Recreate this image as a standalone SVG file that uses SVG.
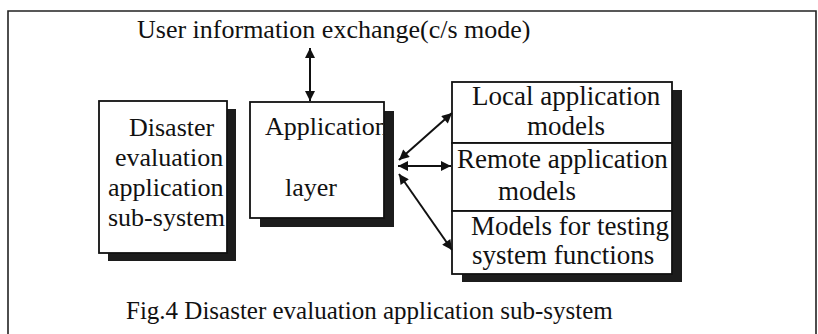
<svg xmlns="http://www.w3.org/2000/svg" width="818" height="334" viewBox="0 0 818 334">
  <style>
    text { font-family: "Liberation Serif", "Times New Roman", serif; fill: #111; }
    .t26 { font-size: 26px; }
    .t27 { font-size: 27px; }
    .cap { font-size: 25px; }
    .box { fill: #fff; stroke: #111; stroke-width: 1.8; }
    .shadow { fill: #1c1c1c; }
    .conn { stroke: #111; stroke-width: 2; fill: none; marker-start: url(#ah); marker-end: url(#ah); }
  </style>
  <defs>
    <marker id="ah" viewBox="0 0 10 10" refX="10" refY="5" markerWidth="6" markerHeight="5" orient="auto-start-reverse" markerUnits="strokeWidth">
      <path d="M0,0 L10,5 L0,10 z" fill="#111"/>
    </marker>
  </defs>
  <rect x="0" y="0" width="818" height="334" fill="#fff"/>
  <path d="M8,334 V11 H816 V334" fill="none" stroke="#222" stroke-width="1.6"/>

  <text id="title" class="t26" x="137" y="38">User information exchange(c/s mode)</text>

  <g id="disaster-subsystem">
    <rect class="shadow" x="108" y="109" width="128" height="152"/>
    <rect class="box" x="99" y="101" width="128" height="152"/>
    <text class="t26" x="129" y="136">Disaster</text>
    <text class="t26" x="115" y="166">evaluation</text>
    <text class="t26" x="108" y="196">application</text>
    <text class="t26" x="108" y="226">sub-system</text>
  </g>

  <g id="application-layer">
    <rect class="shadow" x="260" y="111" width="134" height="116"/>
    <rect class="box" x="250" y="102" width="134" height="116"/>
    <svg x="250" y="102" width="133" height="116" overflow="hidden">
      <text class="t26" x="15" y="33">Application</text>
      <text class="t26" x="35" y="94">layer</text>
    </svg>
  </g>

  <g id="model-stack">
    <rect class="shadow" x="462" y="90" width="220" height="192"/>
    <g id="local-models">
      <rect class="box" x="452" y="82" width="220" height="61"/>
      <text class="t27" x="472" y="105">Local application</text>
      <text class="t27" x="527" y="135">models</text>
    </g>
    <g id="remote-models">
      <rect class="box" x="452" y="143" width="220" height="68"/>
      <text class="t27" x="457" y="168">Remote application</text>
      <text class="t27" x="498" y="200">models</text>
    </g>
    <g id="testing-models">
      <rect class="box" x="452" y="211" width="220" height="63"/>
      <text class="t27" x="471" y="235">Models for testing</text>
      <text class="t27" x="472" y="264">system functions</text>
    </g>
  </g>

  <g id="connectors">
    <line class="conn" x1="310" y1="48" x2="310" y2="101"/>
    <line class="conn" x1="399" y1="160" x2="452" y2="113"/>
    <line class="conn" x1="398" y1="166" x2="451" y2="166"/>
    <line class="conn" x1="399" y1="174" x2="452" y2="250"/>
  </g>

  <text id="caption" class="cap" x="126" y="319">Fig.4 Disaster evaluation application sub-system</text>
</svg>
